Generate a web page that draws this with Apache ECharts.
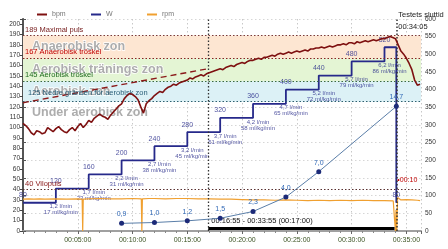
<!DOCTYPE html>
<html><head><meta charset="utf-8">
<script src="https://cdn.jsdelivr.net/npm/echarts@6/dist/echarts.min.js"></script>
<style>html,body{margin:0;padding:0;background:#fff}#c{width:448px;height:249px}</style>
</head><body><div id="c"></div>
<script>
// ---- data ----
const hrStepSec = 15;
const hrBpm = [104,102,99,95,93,97,96,94,95,100,98,96,99,101,98,96,95,98,100,97,
  101,104,100,103,107,105,109,111,113,111,110,108,112,115,118,121,123,128,131,133,
  132,130,127,120,114,123,126,128,131,133,135,134,137,139,140,142,141,143,144,145,
  146,148,147,149,150,151,150,152,153,154,155,156,157,156,158,159,160,159,161,162,
  163,162,164,165,165,166,167,166,168,168,169,170,169,171,172,171,172,173,172,173,
  174,173,174,175,174,176,176,177,177,178,177,178,179,178,179,180,180,181,180,182,
  182,181,183,182,183,184,183,184,185,184,185,186,186,187,188,187,186,180,174,171,
  167,162,156,146,141,142];
const wStartMin = [0,3,6,9,12,15,18,21,24,27,30,33,34.08];
const wWatt     = [80,120,160,200,240,280,320,360,400,440,480,520,80];
const rpmMin = [0,0.5,1,1.5,2,3,4,5,5.4,5.45,5.5,6,7,8,9,10,10.8,10.85,10.9,11.5,12,13,14,15,16,17,18,19,20,21,22,23,24,25,26,27,28,29,30,31,32,33,33.8,33.9,34.0,34.05,34.12,34.2,34.5,35,35.5,36,36.25];
const rpmVal = [90,91,90,91,90,91,90,91,90,0,90,91,92,91,91,92,91,0,91,92,92,91,92,92,91,91,90,90,89,88,88,87,88,87,86,87,86,87,86,87,86,86,85,40,0,60,0,95,88,89,88,87,86];
const lacMin = [9,12,15,18,21,24,27,34.08];
const lacVal = [0.9,1.0,1.2,1.5,2.3,4.0,7.0,14.7];
const vo2Lmin = ['1,2','1,7','2,2','2,7','3,2','3,7','4,2','4,7','5,2','5,7','6,2'];
const vo2Rel = [17,23,31,38,45,51,58,65,72,79,86];
const zoneBounds = [189,167,145,125];
const zoneNames = ['Anaerobisk zon','Aerobisk tränings zon','Aerobisk zon','Under aerobisk zon'];
const thrValues = [189,167,145,125,40];
const thrTexts = ['189 Maximal puls','167 Anaerobisk tröskel','145 Aerobisk tröskel','125 Nedre gränsen för aerobisk zon','40 Vilopuls'];
const trendStart = [0,124];
const trendEnd = [1015,157];
const selStartSec = 1015, selEndSec = 2035, testEndSec = 2045;
const selText = '00:16:55 - 00:33:55 (00:17:00)';
const testEndTitle = 'Testets sluttid';
const testEndText = '00:34:05';
const recoveryText = '•00:10';
const xMaxSec = 2180;

// ---- styles ----
const FONT = 'Liberation Sans, Arial, sans-serif';
const C_HR = '#7e1010', C_W = '#26298a', C_RPM = '#f0a030';
const zoneColors = ['#fde6d2','#e4f5d4','#dcf1f6','rgba(0,0,0,0)'];
const thrColors = ['#7a2222','#c00000','#1e6a1e','#2a5f78','#8b1a1a'];
const thrLine = ['#7a3a3a','#8b2020','#3d6b3d','#2f6070','#5a3030'];

function hms(s){s=Math.round(s);const h=Math.floor(s/3600),m=Math.floor((s%3600)/60),x=s%60;
  return [h,m,x].map(n=>String(n).padStart(2,'0')).join(':');}

const zoneLow = [zoneBounds[1],zoneBounds[2],zoneBounds[3],105];
const zoneHigh = [zoneBounds[0],zoneBounds[1],zoneBounds[2],zoneBounds[3]];
const markAreaData = zoneNames.map((n,i)=>[
  {yAxis:zoneLow[i], name:n, itemStyle:{color:zoneColors[i]}},
  {yAxis:zoneHigh[i]}
]);
const markLineData = thrValues.map((v,i)=>({
  yAxis:v,
  lineStyle:{color:thrLine[i],type:[1.5,2],width:1.2},
  label:{show:true,position:'insideStartTop',distance:i===3?5:2,formatter:thrTexts[i],color:thrColors[i],fontSize:7.5,fontFamily:FONT}
}));
markLineData.push({xAxis:selStartSec, lineStyle:{color:'#333',type:[1.5,2],width:1.3}, label:{show:false}});
markLineData.push({xAxis:testEndSec, lineStyle:{color:'#333',type:[1.5,2],width:1.5}, label:{show:false}});
markLineData.push([{coord:trendStart, lineStyle:{color:'#8b1a1a',type:[6,4],width:1.4}, label:{show:false}},{coord:trendEnd}]);
markLineData.push([{coord:[selStartSec,2.5], lineStyle:{color:'#000',type:'solid',width:3},
  label:{show:true,position:'insideStartTop',distance:3,formatter:selText,color:'#111',fontSize:7.5,fontFamily:FONT}},
  {coord:[selEndSec,2.5]}]);

const hrData = hrBpm.map((v,i)=>[i*hrStepSec,v]);
const wLine = wStartMin.map((m,i)=>[m*60,wWatt[i]]);
const wLabels = wStartMin.map((m,i)=>[m*60,wWatt[i]]);
const vo2Data = vo2Lmin.map((l,i)=>[wStartMin[i+1]*60, wWatt[i]]);
const rpmData = rpmMin.map((m,i)=>[m*60,rpmVal[i]]);
const lacData = lacMin.map((m,i)=>[m*60,lacVal[i]]);

const chart = echarts.init(document.getElementById('c'), null, {renderer:'canvas'});
const legendBase = {top:6, icon:'rect', itemWidth:10, itemHeight:2, itemGap:5,
  textStyle:{fontSize:7,color:'#777',fontFamily:FONT}};
chart.setOption({
  animation:false,
  textStyle:{fontFamily:FONT},
  legend:[
    Object.assign({},legendBase,{left:32,data:['bpm']}),
    Object.assign({},legendBase,{left:86,data:['W']}),
    Object.assign({},legendBase,{left:142,data:['rpm']})
  ],
  grid:{left:23,right:27,top:19,bottom:18,containLabel:false,outerBoundsMode:'none'},
  xAxis:[{
    type:'value',min:0,max:xMaxSec,interval:300,
    axisLine:{show:true,onZero:false,lineStyle:{color:'#222',type:[1.5,2],width:1.2}},
    axisTick:{show:true,length:3,lineStyle:{color:'#666'}},
    minorTick:{show:true,splitNumber:5,length:2,lineStyle:{color:'#888'}},
    axisLabel:{fontSize:7,color:'#3b5323',margin:6,showMaxLabel:false,
      formatter:v=>(v>0&&v%300===0)?hms(v):''},
    splitLine:{show:true,lineStyle:{color:'#c8c8c8',type:[1.5,2.5]}}
  },{
    type:'value',min:0,max:xMaxSec,position:'top',
    axisLine:{show:true,lineStyle:{color:'#a0a0a0',width:2}},
    axisTick:{show:false},axisLabel:{show:false},splitLine:{show:false}
  }],
  yAxis:[{
    type:'value',min:0,max:205,interval:10,position:'left',
    axisLine:{show:true,lineStyle:{color:'#444',width:1}},
    axisTick:{show:true,length:3,lineStyle:{color:'#444'}},
    axisLabel:{fontSize:6.5,color:'#333',margin:3,formatter:v=>v<=200?String(v):''},
    splitLine:{show:false}
  },{
    type:'value',min:0,max:600,interval:50,position:'right',
    axisLine:{show:true,lineStyle:{color:'#555',width:2}},
    axisTick:{show:true,length:3,lineStyle:{color:'#555'}},
    axisLabel:{fontSize:6.5,color:'#333',margin:4},
    splitLine:{show:true,lineStyle:{color:'#d6d6d6',type:[1.5,2.5]}}
  },{
    type:'value',min:0,max:25,show:false
  }],
  series:[
    {
      name:'W',type:'line',yAxisIndex:1,step:'end',data:wLine,showSymbol:false,z:3,
      lineStyle:{color:C_W,width:1.8},itemStyle:{color:C_W}
    },
    {
      name:'rpm',type:'line',yAxisIndex:1,data:rpmData,showSymbol:false,z:4,
      lineStyle:{color:C_RPM,width:1.2},itemStyle:{color:C_RPM}
    },
    {
      name:'lactate',type:'line',yAxisIndex:2,data:lacData,z:5,
      symbol:'circle',symbolSize:5,
      lineStyle:{color:'#5a7ea8',width:1},itemStyle:{color:'#1c2a78'},
      label:{show:true,position:'top',distance:3,fontSize:7,color:'#2f67b5',
        formatter:p=>String(p.value[1].toFixed(1)).replace('.',',')}
    },
    {
      name:'Wlabels',type:'scatter',yAxisIndex:1,data:wLabels,symbolSize:0,z:3,
      label:{show:true,position:'top',distance:4,fontSize:7,color:C_W,formatter:p=>String(p.value[1])},
      itemStyle:{color:C_W}
    },
    {
      name:'vo2',type:'scatter',yAxisIndex:1,data:vo2Data,symbolSize:0,z:3,
      label:{show:true,position:'bottom',distance:1,offset:[5,0],fontSize:6,lineHeight:6,color:C_W,
        formatter:p=>vo2Lmin[p.dataIndex]+' l/min\n'+vo2Rel[p.dataIndex]+' ml/kg/min'}
    },
    {
      name:'bpm',type:'line',yAxisIndex:0,data:hrData,showSymbol:false,z:6,
      lineStyle:{color:C_HR,width:1.6},itemStyle:{color:C_HR},
      markArea:{silent:true,
        label:{show:true,position:'insideLeft',offset:[4,0],fontSize:12.5,fontWeight:'bold',
          color:'#adadad',textBorderColor:'#ffffff',textBorderWidth:1.5,fontFamily:FONT},
        data:markAreaData},
      markLine:{silent:true,symbol:'none',data:markLineData},
      markPoint:{silent:true,symbol:'circle',symbolSize:0,data:[
        {coord:[testEndSec,203],label:{show:true,position:'right',distance:2,fontSize:7.5,lineHeight:12,color:'#222',
          formatter:testEndTitle+'\n'+testEndText}},
        {coord:[testEndSec,49],label:{show:true,position:'right',distance:1,fontSize:7,color:'#c00000',
          formatter:recoveryText}}
      ]}
    }
  ]
});
</script></body></html>
